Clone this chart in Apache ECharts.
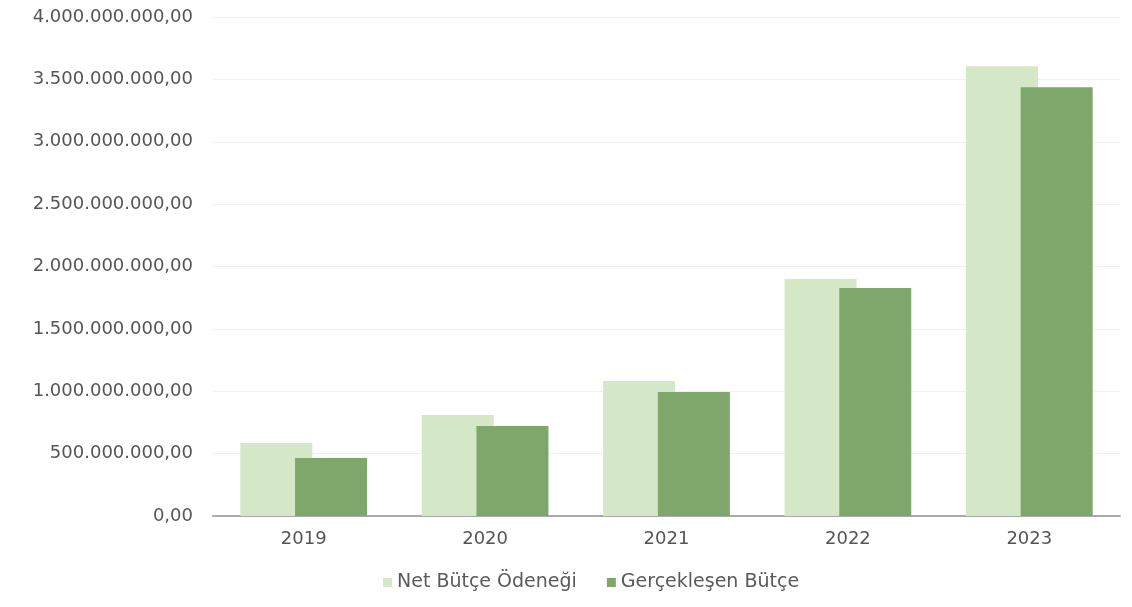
<!DOCTYPE html>
<html><head><meta charset="utf-8">
<script src="https://cdn.jsdelivr.net/npm/echarts@6/dist/echarts.min.js"></script>
<style>html,body{margin:0;padding:0;background:#fff}#c{width:1132px;height:607px}</style>
</head><body><div id="c"></div>
<script>
const years = ['2019','2020','2021','2022','2023'];
const netButce = [585000000, 809000000, 1082000000, 1899000000, 3606000000];
const gerceklesen = [465000000, 721000000, 994000000, 1827000000, 3437000000];
const seriesNames = ['Net Bütçe Ödeneği', 'Gerçekleşen Bütçe'];

function trFmt(v){
  const s = Math.round(v).toString().replace(/\B(?=(\d{3})+(?!\d))/g, '.');
  return s + ',00';
}
const chart = echarts.init(document.getElementById('c'));
chart.setOption({
  animation:false,
  textStyle:{fontFamily:'DejaVu Sans, sans-serif'},
  grid:{left:213,right:12,top:17,bottom:91},
  legend:{bottom:10,left:378,itemWidth:9,itemHeight:9,itemGap:30,icon:'rect',
    textStyle:{color:'#5a5a5a',fontSize:19}},
  xAxis:{type:'category',data:years,
    axisLine:{lineStyle:{color:'#aaa',width:2}},axisTick:{show:false},
    axisLabel:{color:'#555',fontSize:18,margin:14}},
  yAxis:{type:'value',min:0,max:4000000000,interval:500000000,
    axisLabel:{formatter:trFmt,color:'#555',fontSize:18,margin:20},
    splitLine:{lineStyle:{color:'#f0f0f0'}}},
  series:[
    {name:seriesNames[0],type:'bar',data:netButce,barWidth:72,barGap:'-24%',
     itemStyle:{color:'#d4e7c6'}},
    {name:seriesNames[1],type:'bar',data:gerceklesen,barWidth:72,
     itemStyle:{color:'#7fa66b'}}
  ]
});
</script></body></html>
